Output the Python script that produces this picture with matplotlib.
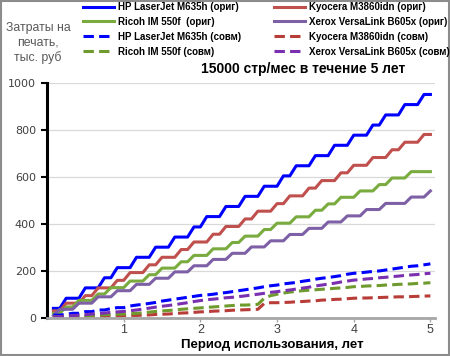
import numpy as np
import matplotlib
matplotlib.use('Agg')
import matplotlib.pyplot as plt
from matplotlib.patches import Rectangle

plt.rcParams['font.family'] = ['Liberation Sans', 'DejaVu Sans']

# months 1..60, plotted in years
months = np.arange(1, 61)
years = months / 12

# cumulative print costs, thousand roubles (original cartridges)
hp_orig = [41, 41, 84, 84, 84, 128, 128, 128, 171, 171, 214, 214, 214, 258, 258,
           258, 301, 301, 301, 344, 344, 344, 387, 387, 431, 431, 431, 474, 474, 474,
           517, 517, 517, 560, 560, 560, 604, 604, 647, 647, 647, 690, 690, 690, 734,
           734, 734, 777, 777, 777, 820, 820, 863, 863, 863, 907, 907, 907, 950, 950]
kyo_orig = [30, 30, 63, 63, 63, 95, 95, 128, 128, 128, 160, 160, 193, 193, 193,
            226, 226, 258, 258, 258, 291, 291, 323, 323, 323, 356, 356, 389, 389, 389,
            421, 421, 454, 454, 454, 486, 486, 519, 519, 519, 552, 552, 584, 584, 584,
            617, 617, 649, 649, 649, 682, 682, 682, 715, 715, 747, 747, 747, 780, 780]
ric_orig = [20, 20, 47, 47, 75, 75, 75, 102, 102, 129, 129, 129, 157, 157, 157,
            184, 184, 212, 212, 212, 239, 239, 266, 266, 266, 294, 294, 294, 321, 321,
            348, 348, 348, 376, 376, 403, 403, 403, 430, 430, 430, 458, 458, 485, 485,
            513, 513, 513, 540, 540, 540, 567, 567, 595, 595, 595, 622, 622, 622, 622]
xer_orig = [10, 37, 37, 37, 63, 63, 63, 90, 90, 90, 116, 116, 116, 143, 143,
            143, 169, 169, 169, 196, 196, 196, 222, 222, 222, 249, 249, 249, 275, 275,
            275, 302, 302, 302, 328, 328, 328, 355, 355, 355, 381, 381, 381, 408, 408,
            408, 434, 434, 434, 461, 461, 461, 487, 487, 487, 487, 514, 514, 514, 540]

# compatible cartridges
hp_comp = [12, 12, 16, 20, 20, 27, 27, 34, 34, 40, 44, 44, 51, 55, 58,
           62, 66, 72, 76, 80, 84, 88, 92, 96, 98, 101, 105, 108, 112, 116,
           120, 124, 128, 133, 137, 140, 145, 148, 151, 156, 160, 165, 169, 172, 176,
           180, 186, 190, 192, 195, 198, 200, 204, 208, 212, 216, 220, 222, 226, 230]
kyo_comp = [2, 3, 4, 5, 5, 6, 7, 7, 8, 9, 9, 10, 11, 11, 12,
            13, 15, 16, 17, 19, 21, 22, 24, 26, 27, 29, 30, 31, 33, 34,
            35, 36, 37, 62, 65, 65, 66, 67, 69, 70, 72, 73, 76, 77, 79,
            80, 82, 84, 85, 85, 86, 87, 88, 89, 90, 90, 91, 92, 93, 94]
ric_comp = [5, 6, 7, 8, 9, 10, 11, 12, 14, 15, 16, 17, 18, 20, 22,
            25, 28, 30, 32, 34, 37, 39, 41, 43, 45, 47, 49, 51, 53, 55,
            55, 56, 58, 84, 95, 101, 106, 110, 113, 116, 118, 120, 122, 124, 126,
            128, 130, 133, 134, 136, 137, 138, 140, 141, 143, 144, 145, 147, 148, 150]
xer_comp = [5, 6, 8, 10, 12, 14, 17, 19, 21, 24, 26, 28, 31, 34, 38,
            42, 46, 50, 53, 57, 61, 65, 70, 74, 78, 80, 83, 86, 88, 91,
            94, 98, 101, 105, 109, 112, 116, 119, 123, 127, 131, 136, 140, 144, 148,
            153, 157, 161, 163, 166, 168, 171, 173, 176, 178, 181, 183, 185, 188, 190]

labels = ['HP LaserJet M635h (ориг)', 'Kyocera M3860idn (ориг)',
          'Ricoh IM 550f  (ориг)', 'Xerox VersaLink B605x (ориг)',
          'HP LaserJet M635h (совм)', 'Kyocera M3860idn (совм)',
          'Ricoh IM 550f (совм)', 'Xerox VersaLink B605x (совм)']

fig = plt.figure(figsize=(4.5, 3.56), dpi=100)
ax = fig.add_axes([47 / 450, 38 / 356, 388 / 450, 235.3 / 356])

lw = 2.2
dash = (0, (3.4, 1.7))
h_hp, = ax.plot(years, hp_orig, color='#0000FF', lw=lw, label=labels[0])
h_ky, = ax.plot(years, kyo_orig, color='#C0504D', lw=lw, label=labels[1])
h_ri, = ax.plot(years, ric_orig, color='#79AB3F', lw=lw, label=labels[2])
h_xe, = ax.plot(years, xer_orig, color='#7D60A6', lw=lw, label=labels[3])
h_hpc, = ax.plot(years, hp_comp, color='#0000FF', lw=lw, ls=dash, label=labels[4])
h_kyc, = ax.plot(years, kyo_comp, color='#B83C38', lw=lw, ls=dash, label=labels[5])
h_ric, = ax.plot(years, ric_comp, color='#6E9A2E', lw=lw, ls=dash, label=labels[6])
h_xec, = ax.plot(years, xer_comp, color='#7A2FB0', lw=lw, ls=dash, label=labels[7])

ax.set_xlim(0, 5.06)
ax.set_ylim(0, 1000)
ax.set_yticks([0, 200, 400, 600, 800, 1000])
ax.set_xticks([1, 2, 3, 4, 5])
ax.yaxis.grid(True, color='#D9D9D9', lw=0.9)
ax.set_axisbelow(True)
for s in ['top', 'right']:
    ax.spines[s].set_visible(False)
ax.spines['left'].set_color('black')
ax.spines['left'].set_linewidth(2.2)
ax.spines['bottom'].set_color('#A6A6A6')
ax.spines['bottom'].set_linewidth(2)
ax.tick_params(axis='y', colors='black', labelcolor='#404040', labelsize=8,
               length=4, width=1.5, direction='out', pad=4)
ax.tick_params(axis='x', colors='#A6A6A6', labelcolor='#404040', labelsize=9,
               length=3, width=1, direction='out', pad=1)
for t in ax.get_yticklabels():
    t.set_fontfamily('DejaVu Sans')

fig.text(303 / 450, 1 - 69 / 356, '15000 стр/мес в течение 5 лет',
         ha='center', va='center', fontsize=10, fontweight='bold')
fig.text(272 / 450, 1 - 345 / 356, 'Период использования, лет',
         ha='center', va='center', fontsize=9.5, fontweight='bold')
fig.text(38 / 450, 1 - 43 / 356, 'Затраты на\nпечать,\nтыс. руб',
         ha='center', va='center', fontsize=8.8, color='#595959', linespacing=1.25)

handles = [h_hp, h_ri, h_hpc, h_ric, h_ky, h_xe, h_kyc, h_xec]
fig.legend(handles=handles, labels=[h.get_label() for h in handles],
           ncol=2, loc='upper left', bbox_to_anchor=(82 / 450, 0.997),
           frameon=False, borderpad=0.1, borderaxespad=0,
           prop={'size': 7, 'weight': 'bold'}, handlelength=3.2,
           handletextpad=0.45, columnspacing=3.3, labelspacing=0.5)

fig.add_artist(Rectangle((0.002, 0.003), 0.995, 0.993, transform=fig.transFigure,
                         fill=False, edgecolor='#8C8C8C', lw=1.5))

fig.savefig('out.png', dpi=100)
